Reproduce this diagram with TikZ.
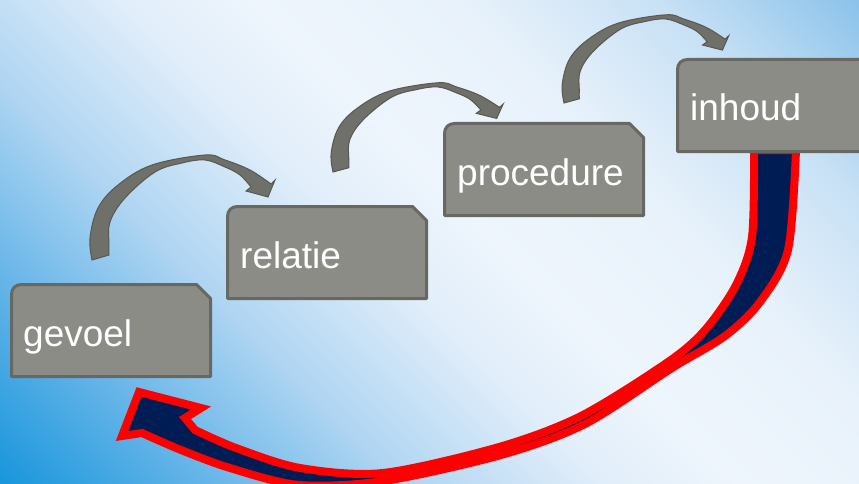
\documentclass[tikz,border=0pt]{standalone}
\usepackage{fontspec}
\setmainfont{Liberation Sans}
\usepackage{tikz}
\usetikzlibrary{positioning, calc, shadings}

\definecolor{cardfill}{RGB}{140,140,134}
\definecolor{cardedge}{RGB}{104,104,99}
\definecolor{bendfill}{RGB}{112,112,106}
\definecolor{bendedge}{RGB}{88,88,83}
\definecolor{returnred}{RGB}{255,0,0}
\definecolor{returnnavy}{RGB}{0,28,84}
\definecolor{skydeep}{RGB}{25,150,220}
\definecolor{skyblue}{RGB}{100,180,232}
\definecolor{skymid}{RGB}{175,213,242}
\definecolor{skypale}{RGB}{225,238,250}
\definecolor{skywhite}{RGB}{238,245,252}
\definecolor{skysoft}{RGB}{232,242,251}
\definecolor{skylight}{RGB}{200,225,245}
\definecolor{skytop}{RGB}{140,195,235}

\pgfdeclarehorizontalshading{skywash}{100bp}{color(0bp)=(skydeep); color(14.6bp)=(skydeep);
	color(25.2bp)=(skyblue); color(35.8bp)=(skymid); color(46.5bp)=(skypale);
	color(53.5bp)=(skywhite); color(64.2bp)=(skysoft); color(74.8bp)=(skylight);
	color(85.4bp)=(skytop); color(100bp)=(skytop)}

\tikzset{
	cardline/.style={draw=cardedge, fill=cardfill, line width=3pt, line join=round},
	cardtext/.style={anchor=base west, inner sep=0pt, text=white, font=\fontsize{37}{44}\selectfont},
	bendline/.style={draw=bendedge, fill=bendfill, line width=1pt, line join=miter},
	returnline/.style={draw=returnred, fill=returnnavy, line width=8pt, line join=miter},
	stairarrow/.pic={
		\filldraw[bendline] plot[smooth, tension=0.6] coordinates {(0,0) (-2,-22) (6,-52) (26,-75) (60,-95) (113,-105) (133,-100) (158,-90) (179,-76)}
			-- (183,-80) -- (176,-63) -- (154,-69) -- (159,-73)
			-- plot[smooth, tension=0.6] coordinates {(159,-73) (148,-85) (133,-93) (113,-100) (90,-97) (63,-88) (33,-62) (18,-38) (17,-15) (17,-5)}
			-- cycle;
	}
}

\begin{document}
\begin{tikzpicture}[x=1pt, y=-1pt]
			
			%Background
			\useasboundingbox (0,0) rectangle (859,484);
			\shade[shading=skywash, shading angle=45] (0,0) rectangle (859,484);
			
			%Return arrow
			\filldraw[returnline] plot[smooth, tension=0.5] coordinates {(754,150) (752,237) (736,285) (705,330) (668,362) (581,416) (499,447) (383,473) (300,468) (236,448) (195,430)}
				-- (185,418) -- (201,408) -- (139,392) -- (122,436) -- (142,433)
				-- plot[smooth, tension=0.5] coordinates {(142,433) (181,450) (230,468) (299,485) (384,481) (501,455) (585,424) (672,368) (725,336) (760,302) (788,250) (796,150)}
				-- cycle;
			
			%Cards
			\foreach \x/\y in {11.5/284.5, 227.5/206.5, 444.5/123.5, 677.5/59.5}
				\draw[cardline] (\x,\y+92) -- (\x,\y+10) .. controls (\x,\y+4) and (\x+4,\y) .. (\x+10,\y)
					-- (\x+185,\y) -- (\x+199,\y+14) -- (\x+199,\y+92) -- cycle;
			
			\node[cardtext] (gevoel) at (23,346) {gevoel};
			\node[cardtext] (relatie) at (240,268) {relatie};
			\node[cardtext] (procedure) at (457,185) {procedure};
			\node[cardtext] (inhoud) at (690,121) {inhoud};
			
			%Steps
			\pic at (92,260) {stairarrow};
			\pic[xscale=0.93, yscale=0.85] at (333,172) {stairarrow};
			\pic[xscale=0.9, yscale=0.84] at (564,103) {stairarrow};
			
\end{tikzpicture}
\end{document}
